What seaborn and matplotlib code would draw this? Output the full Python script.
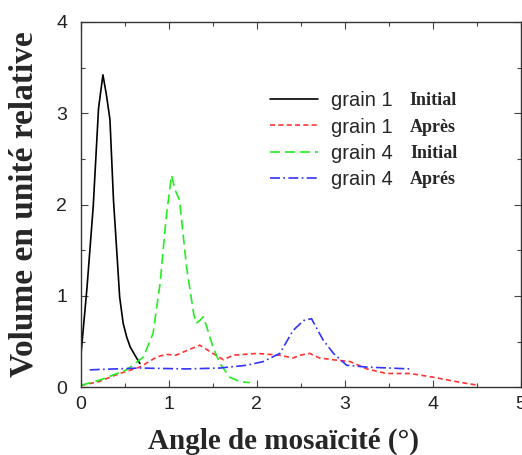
import matplotlib
matplotlib.use("Agg")
import matplotlib.pyplot as plt
import seaborn as sns
import pandas as pd

# grain 1 Initial
g1i_x = [0.0, 0.07, 0.14, 0.20, 0.25, 0.29, 0.33, 0.37, 0.41, 0.44, 0.48, 0.52, 0.56, 0.62, 0.67]
g1i_y = [0.35, 1.10, 1.98, 3.05, 3.42, 3.20, 2.93, 2.05, 1.45, 0.99, 0.70, 0.55, 0.44, 0.34, 0.26]

# grain 1 Après
g1a_x = [0.0, 0.2, 0.44, 0.67, 0.86, 0.97, 1.08, 1.2, 1.35, 1.5, 1.62, 1.73, 2.0, 2.26, 2.41,
         2.49, 2.6, 2.71, 2.87, 3.06, 3.25, 3.47, 3.74, 4.0, 4.27, 4.52]
g1a_y = [0.02, 0.06, 0.15, 0.22, 0.33, 0.36, 0.35, 0.40, 0.46, 0.37, 0.30, 0.35, 0.37, 0.35, 0.32,
         0.35, 0.37, 0.32, 0.30, 0.28, 0.20, 0.15, 0.15, 0.11, 0.06, 0.02]

# grain 4 Initial
g4i_x = [0.0, 0.22, 0.52, 0.71, 0.82, 0.90, 0.97, 1.03, 1.07, 1.12, 1.2, 1.28, 1.31, 1.35, 1.39,
         1.43, 1.5, 1.58, 1.69, 1.81, 1.92]
g4i_y = [0.02, 0.08, 0.19, 0.33, 0.59, 1.14, 1.87, 2.32, 2.16, 2.05, 1.32, 0.81, 0.70, 0.73, 0.77,
         0.66, 0.44, 0.26, 0.11, 0.06, 0.05]

# grain 4 Après
g4a_x = [0.10, 0.67, 1.2, 1.58, 1.88, 2.07, 2.26, 2.41, 2.53, 2.62, 2.75, 2.87, 3.02, 3.25, 3.5, 3.74]
g4a_y = [0.19, 0.21, 0.20, 0.21, 0.24, 0.28, 0.37, 0.62, 0.73, 0.75, 0.52, 0.37, 0.24, 0.22, 0.21, 0.20]

series_names = ["g1i", "g1a", "g4i", "g4a"]
legend_main = ["grain 1", "grain 1", "grain 4", "grain 4"]
legend_suffix = ["Initial", "Après", "Initial", "Aprés"]
colors = ["#000000", "#ff3333", "#22ee22", "#3333ff"]
dashes = [(None, None), (3, 2), (6, 3), (6, 2, 1, 2)]

xs = [g1i_x, g1a_x, g4i_x, g4a_x]
ys = [g1i_y, g1a_y, g4i_y, g4a_y]

frames = []
for name, x, y in zip(series_names, xs, ys):
    frames.append(pd.DataFrame({"x": x, "y": y, "series": name}))
df = pd.concat(frames, ignore_index=True)

sns.set_style("ticks")
fig = plt.figure(figsize=(5.22, 4.55), dpi=100)
ax = fig.add_axes([0.155, 0.149, 0.843, 0.803])

for name, c, d, lab in zip(series_names, colors, dashes, legend_main):
    sub = df[df["series"] == name]
    sns.lineplot(data=sub, x="x", y="y", ax=ax, color=c, linewidth=1.2,
                 label=lab, sort=False, estimator=None)
    l = ax.get_lines()[-1]
    if d[0] is not None:
        l.set_dashes(d)

ax.set_xlim(0, 5)
ax.set_ylim(0, 4)
ax.set_xticks([0, 1, 2, 3, 4, 5])
ax.set_yticks([0, 1, 2, 3, 4])
ax.set_xticks([0.5, 1.5, 2.5, 3.5, 4.5], minor=True)
ax.set_yticks([0.5, 1.5, 2.5, 3.5], minor=True)
ax.tick_params(which="both", direction="in", top=True, right=True, color="#444444")
ax.tick_params(which="major", length=5, width=0.8, labelcolor="#222222")
ax.tick_params(which="minor", length=3, width=0.8)
ax.tick_params(axis="y", which="major", pad=10)
ax.tick_params(axis="x", which="major", pad=6)
for lbl in ax.get_xticklabels() + ax.get_yticklabels():
    lbl.set_fontfamily("Liberation Sans")
    lbl.set_fontsize(14)
for s in ax.spines.values():
    s.set_color("#333333")
    s.set_linewidth(1.0)

ax.set_xlabel("Angle de mosaïcité (°)", fontfamily="Liberation Serif", fontweight="bold",
              fontsize=21)
ax.set_ylabel("Volume en unité relative", fontfamily="Liberation Serif", fontweight="bold",
              fontsize=24)
ax.xaxis.set_label_coords(0.461, -0.112)
ax.yaxis.set_label_coords(-0.093, 0.5)

leg = ax.legend(loc="upper left", bbox_to_anchor=(0.43, 0.81), frameon=False,
                prop={"family": "Liberation Sans", "size": 14.5}, handlelength=2.4,
                labelspacing=0.36, handletextpad=0.6, borderaxespad=0, borderpad=0)
fig.canvas.draw()
inv = ax.transAxes.inverted()
for txt, suf in zip(leg.get_texts(), legend_suffix):
    bb = txt.get_window_extent()
    (x0, y0), (x1, y1) = inv.transform([[bb.x0, bb.y0], [bb.x1, bb.y1]])
    ax.text(x1 + 0.04, (y0 + y1) / 2, suf, transform=ax.transAxes, va="center", ha="left",
            fontfamily="Liberation Serif", fontweight="bold", fontsize=13)

fig.savefig("out.png", dpi=100)
